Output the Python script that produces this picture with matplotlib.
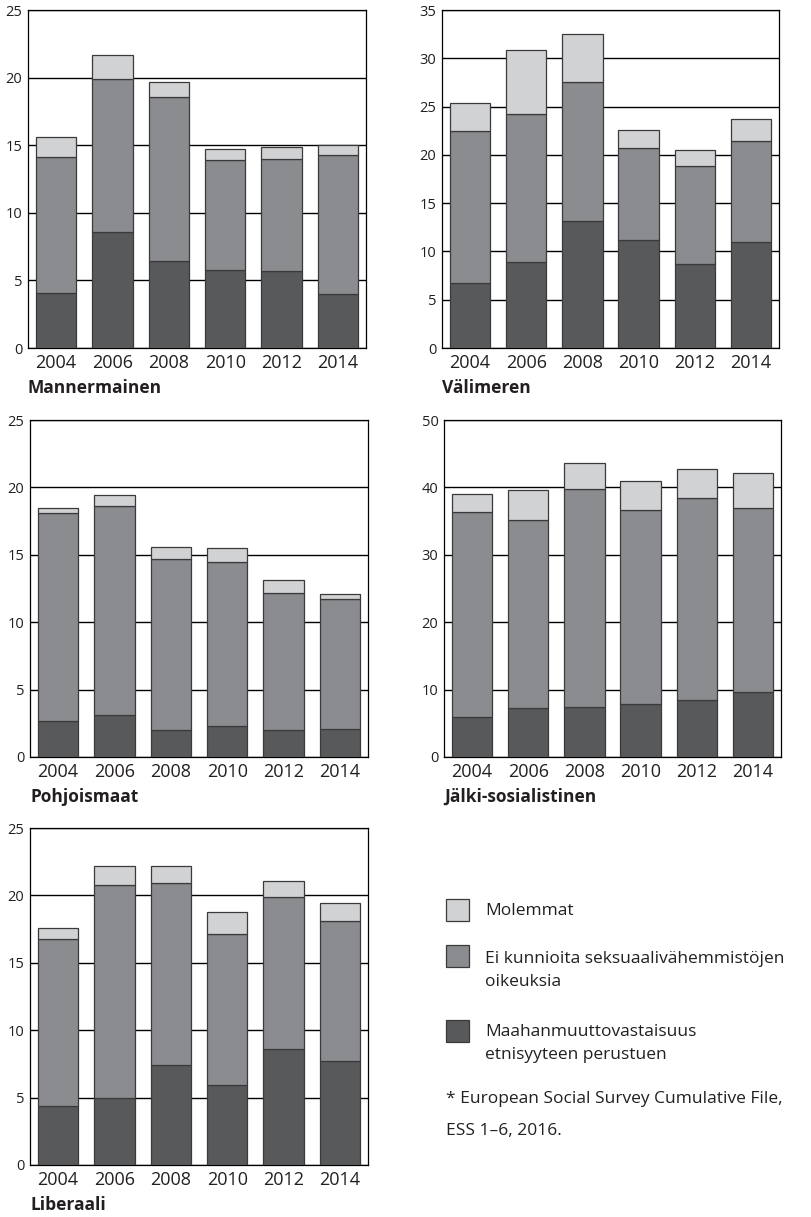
import matplotlib
matplotlib.use("Agg")
import matplotlib.pyplot as plt
from matplotlib.patches import Rectangle

plt.rcParams['font.family'] = ['Open Sans', 'DejaVu Sans']

years = ["2004", "2006", "2008", "2010", "2012", "2014"]

# dark = Maahanmuuttovastaisuus, mid = Ei kunnioita..., light = Molemmat (stack tops)
manner_dark = [4.1, 8.6, 6.4, 5.8, 5.7, 4.0]
manner_mid = [14.1, 19.9, 18.6, 13.9, 14.0, 14.3]
manner_top = [15.6, 21.7, 19.7, 14.7, 14.9, 15.0]

vali_dark = [6.7, 8.9, 13.2, 11.2, 8.7, 11.0]
vali_mid = [22.5, 24.2, 27.5, 20.7, 18.8, 21.4]
vali_top = [25.4, 30.9, 32.5, 22.6, 20.5, 23.7]

pohj_dark = [2.7, 3.1, 2.0, 2.3, 2.0, 2.1]
pohj_mid = [18.1, 18.6, 14.7, 14.5, 12.2, 11.7]
pohj_top = [18.5, 19.4, 15.6, 15.5, 13.1, 12.1]

jalki_dark = [6.0, 7.3, 7.4, 7.9, 8.5, 9.6]
jalki_mid = [36.3, 35.2, 39.8, 36.7, 38.5, 37.0]
jalki_top = [39.0, 39.6, 43.6, 41.0, 42.7, 42.2]

lib_dark = [4.4, 5.0, 7.4, 5.9, 8.6, 7.7]
lib_mid = [16.8, 20.8, 20.9, 17.1, 19.9, 18.1]
lib_top = [17.6, 22.2, 22.2, 18.8, 21.1, 19.4]

c_dark = "#58595b"
c_mid = "#8b8c90"
c_light = "#d1d2d4"
edge = "#3a3a3a"
txt = "#231f20"

W, H = 812, 1217
fig = plt.figure(figsize=(W / 100, H / 100), dpi=100)


def panel(x0, y0, x1, y1, dark, mid, top, ymax, step, title):
    ax = fig.add_axes([x0 / W, 1 - y1 / H, (x1 - x0) / W, (y1 - y0) / H])
    x = range(len(years))
    mid_h = [m - d for m, d in zip(mid, dark)]
    top_h = [t - m for t, m in zip(top, mid)]
    kw = dict(width=0.72, edgecolor=edge, linewidth=0.9, zorder=3)
    ax.bar(x, dark, color=c_dark, **kw)
    ax.bar(x, mid_h, bottom=dark, color=c_mid, **kw)
    ax.bar(x, top_h, bottom=mid, color=c_light, **kw)
    ax.set_xlim(-0.5, len(years) - 0.5)
    ax.set_ylim(0, ymax)
    ax.set_yticks(range(0, ymax + 1, step))
    ax.yaxis.grid(True, color="black", linewidth=1.0, zorder=0)
    ax.set_axisbelow(True)
    ax.set_xticks(list(x))
    ax.set_xticklabels(years)
    ax.tick_params(axis="x", length=0, labelsize=13, colors=txt, pad=4)
    ax.tick_params(axis="y", length=0, labelsize=10.5, colors=txt, pad=4)
    for s in ax.spines.values():
        s.set_linewidth(0.9)
        s.set_color("black")
    fig.text(x0 / W, 1 - (y1 + 40) / H, title, fontsize=12.5, fontweight="bold",
             color=txt, ha="left", va="center")
    return ax


panel(28, 10, 366, 348, manner_dark, manner_mid, manner_top, 25, 5, "Mannermainen")
panel(442, 10, 779, 348, vali_dark, vali_mid, vali_top, 35, 5, "Välimeren")
panel(30, 420, 368, 757, pohj_dark, pohj_mid, pohj_top, 25, 5, "Pohjoismaat")
panel(444, 420, 781, 757, jalki_dark, jalki_mid, jalki_top, 50, 10, "Jälki-sosialistinen")
panel(30, 828, 368, 1165, lib_dark, lib_mid, lib_top, 25, 5, "Liberaali")

# legend
legend_items = [
    (c_light, ["Molemmat"], 899, 911),
    (c_mid, ["Ei kunnioita seksuaalivähemmistöjen", "oikeuksia"], 945, 959),
    (c_dark, ["Maahanmuuttovastaisuus", "etnisyyteen perustuen"], 1020, 1032),
]
for col, lines, ytop, ytext in legend_items:
    fig.patches.append(Rectangle((446 / W, 1 - (ytop + 22) / H), 23 / W, 22 / H,
                                 transform=fig.transFigure, facecolor=col,
                                 edgecolor=edge, linewidth=0.9))
    for i, line in enumerate(lines):
        fig.text(485 / W, 1 - (ytext + i * 23) / H, line, fontsize=12.5,
                 color=txt, ha="left", va="center")

fig.text(446 / W, 1 - 1099 / H, "* European Social Survey Cumulative File,",
         fontsize=12.5, color=txt, ha="left", va="center")
fig.text(446 / W, 1 - 1131 / H, "ESS 1–6, 2016.",
         fontsize=12.5, color=txt, ha="left", va="center")

fig.savefig("out.png", dpi=100)
